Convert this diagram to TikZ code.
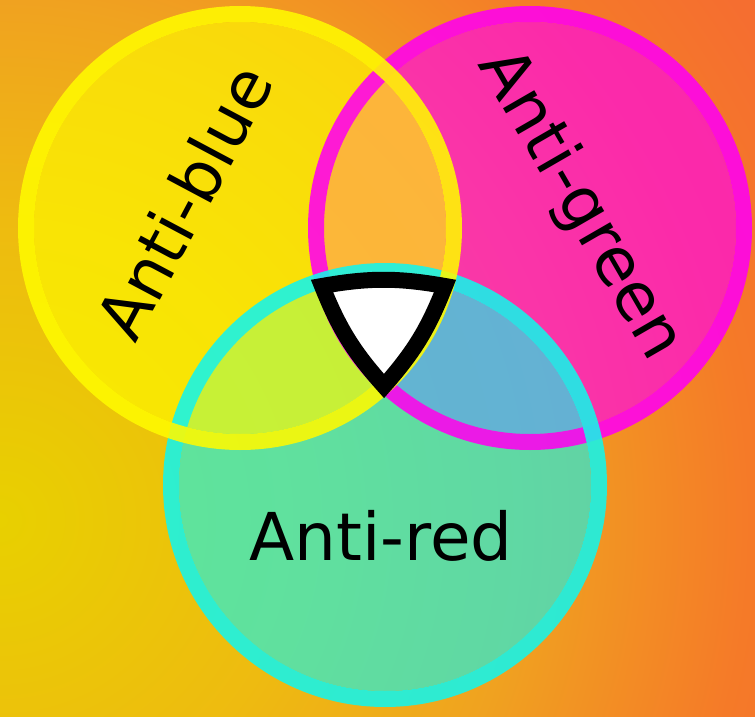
\documentclass[tikz,border=0pt]{standalone}
\usepackage{fontspec}
\setmainfont{DejaVu Sans}
\usepackage{xcolor}
\usetikzlibrary{positioning}
\definecolor{bgA}{RGB}{232,208,0}
\definecolor{bgB}{RGB}{238,187,16}
\definecolor{bgC}{RGB}{240,162,32}
\definecolor{bgD}{RGB}{245,122,40}
\definecolor{bgE}{RGB}{245,110,48}
\definecolor{antiblue}{RGB}{255,250,0}
\definecolor{antigreen}{RGB}{255,0,240}
\definecolor{antired}{RGB}{20,245,235}
\pgfdeclareradialshading{bgglow}{\pgfpoint{0bp}{0bp}}{color(0bp)=(bgA);
  color(7.5bp)=(bgB); color(13bp)=(bgC); color(18.75bp)=(bgD);
  color(22.5bp)=(bgE); color(25bp)=(bgE); color(50bp)=(bgE)}
\tikzset{
  disc/.style={fill opacity=.65},
  ring/.style={line width=16,draw opacity=.88},
  core/.style={draw=black,fill=white,line width=16,line join=miter},
  caption/.style={font=\fontsize{66}{70}\selectfont,text=black,inner sep=0pt},
}
\begin{document}
\begin{tikzpicture}[x=1pt,y=-1pt]
  % ---------------- canvas ----------------
  \useasboundingbox (0,0) rectangle (755,717);
  \begin{scope}
    \clip (0,0) rectangle (755,717);
    \shade[shading=bgglow] (0,520) circle[radius=1000];
  \end{scope}
  % ---------------- centres ----------------
  \coordinate (cBlue)  at (240,228);
  \coordinate (cGreen) at (530,228);
  \coordinate (cRed)   at (385,485);
  % ---------------- discs ----------------
  \fill[disc,antigreen] (cGreen) circle[radius=206];
  \fill[disc,antired]   (cRed)   circle[radius=206];
  \fill[disc,antiblue]  (cBlue)  circle[radius=206];
  % ---------------- rings ----------------
  \draw[ring,antigreen] (cGreen) circle[radius=214];
  \draw[ring,antired]   (cRed)   circle[radius=214];
  \draw[ring,antiblue]  (cBlue)  circle[radius=214];
  % ---------------- centre piece ----------------
  \coordinate (tL) at (322,286);
  \coordinate (tR) at (445,286);
  \coordinate (tB) at (384,386);
  \draw[core] (tL) to[bend left=10] (tR) to[bend left=10] (tB)
    to[bend left=10] (tL) -- cycle;
  % ---------------- labels ----------------
  \node[caption,rotate=62]  (antiBlue)  at (184,202) {Anti-blue};
  \node[caption,rotate=-60] (antiGreen) at (580,205) {Anti-green};
  \node[caption,anchor=base] (antiRed)  at (381,560) {Anti-red};
\end{tikzpicture}
\end{document}
